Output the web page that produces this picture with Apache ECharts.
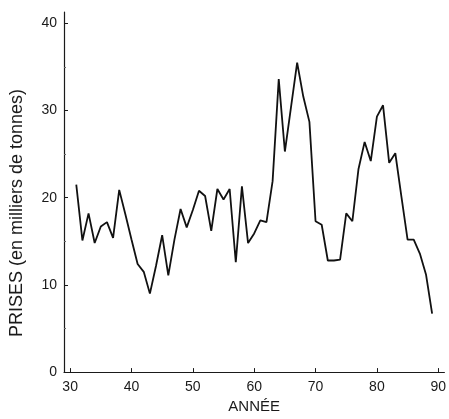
<!DOCTYPE html>
<html>
<head>
<meta charset="utf-8">
<script src="https://cdn.jsdelivr.net/npm/echarts@6/dist/echarts.min.js"></script>
<style>
  html, body { margin: 0; padding: 0; background: #fff; }
  #chart { width: 449px; height: 419px; }
</style>
</head>
<body>
<div id="chart"></div>
<script>
// catches per year (thousands of tonnes)
const years = [31, 32, 33, 34, 35, 36, 37, 38, 39, 40,
  41, 42, 43, 44, 45, 46, 47, 48, 49, 50,
  51, 52, 53, 54, 55, 56, 57, 58, 59, 60,
  61, 62, 63, 64, 65, 66, 67, 68, 69, 70,
  71, 72, 73, 74, 75, 76, 77, 78, 79, 80,
  81, 82, 83, 84, 85, 86, 87, 88, 89]
const catches = [21.5, 15.1, 18.2, 14.8, 16.7, 17.2, 15.4, 20.9, 18.1, 15.2,
  12.4, 11.5, 9.0, 12.2, 15.7, 11.1, 15.2, 18.7, 16.6, 18.6,
  20.8, 20.2, 16.2, 21.0, 19.8, 21.0, 12.6, 21.3, 14.8, 15.9,
  17.4, 17.2, 21.9, 33.6, 25.3, 30.4, 35.5, 31.6, 28.7, 17.3,
  16.9, 12.8, 12.8, 12.9, 18.2, 17.3, 23.3, 26.4, 24.2, 29.3,
  30.6, 24.0, 25.1, 20.1, 15.2, 15.2, 13.6, 11.2, 6.7]
const xTicks = [30, 40, 50, 60, 70, 80, 90]
const yTicks = [0, 10, 20, 30, 40]
const yMinorTicks = [5, 15, 25, 35]

const chart = echarts.init(document.getElementById('chart'))
const font = '"Liberation Sans", Arial, sans-serif'
const ink = '#1a1a1a'

chart.setOption({
  animation: false,
  grid: { left: 61, right: 4, top: 12, bottom: 38.5 },
  xAxis: {
    type: 'value',
    min: 29,
    max: 91,
    name: 'ANNÉE',
    nameLocation: 'middle',
    nameGap: 24,
    nameTextStyle: { color: ink, fontSize: 15, fontFamily: font },
    axisLine: { show: true, onZero: false, lineStyle: { color: ink, width: 1.2 } },
    axisTick: { show: true, inside: true, length: 4, customValues: xTicks, lineStyle: { color: ink } },
    axisLabel: { customValues: xTicks, margin: 8, color: ink, fontSize: 14, fontFamily: font },
    splitLine: { show: false },
  },
  yAxis: [{
    type: 'value',
    min: 0,
    max: 41.3,
    name: 'PRISES (en milliers de tonnes)',
    nameLocation: 'middle',
    nameGap: 38,
    nameTextStyle: { color: ink, fontSize: 18, fontFamily: font, padding: [0, 42, 0, 0] },
    axisLine: { show: true, lineStyle: { color: ink, width: 1.2 } },
    axisTick: { show: true, inside: true, length: 4, customValues: yTicks, lineStyle: { color: ink } },
    axisLabel: { customValues: yTicks, margin: 7, color: ink, fontSize: 14, fontFamily: font },
    splitLine: { show: false },
  }, {
    // second copy of the left axis, only for the small ticks at 5, 15, 25, 35
    type: 'value',
    position: 'left',
    min: 0,
    max: 41.3,
    axisLine: { show: false },
    axisTick: { show: true, inside: true, length: 2, customValues: yMinorTicks, lineStyle: { color: '#666' } },
    axisLabel: { show: false },
    splitLine: { show: false },
  }],
  series: [{
    type: 'line',
    data: years.map((y, i) => [y, catches[i]]),
    showSymbol: false,
    lineStyle: { color: '#111', width: 1.8 },
  }],
})
</script>
</body>
</html>
